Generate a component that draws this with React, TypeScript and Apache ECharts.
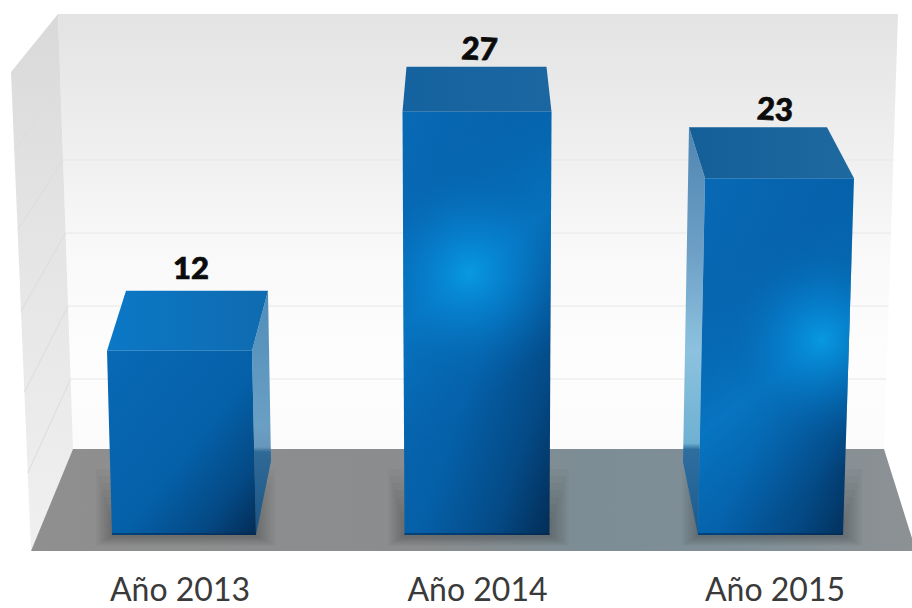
import React, { useEffect, useRef } from "react";
import * as echarts from "echarts";

const categories = ["Año 2013", "Año 2014", "Año 2015"];
const values = [12, 27, 23];
const wallTicks = [5, 10, 15, 20, 25];

// Perspective of each box, in pixels relative to the category centre and the value's y.
const boxes = [
  { lift: 3, ftL: -73, ftR: 72, fbL: -68, fbR: 76, bL: -54, bR: 88, depth: 60, side: "right", sideX: 91, lx: 11, ly: -84 },
  { lift: -2, ftL: -75, ftR: 74, fbL: -73, fbR: 72, bL: -71, bR: 69, depth: 45, side: "none", sideX: 0, lx: 2, ly: -64 },
  { lift: 2, ftL: -70, ftR: 79, fbL: -77, fbR: 68, bL: -86, bR: 52, depth: 51, side: "left", sideX: -92, lx: 0, ly: -70 },
];
const highlights = [
  null,
  { dx: -8, dy: -262, r: 110 },
  { dx: 47, dy: -195, r: 100 },
];
const topFills = [
  ["#0b78c6", "#0f6bb0"],
  ["#14629f", "#1c67a2"],
  ["#155f99", "#1e699f"],
];
const haloSteps = [1, 2, 3, 4, 5, 6, 7, 8];

const backEdgeL = (y: number) => 58 + ((y - 14) / 435) * 15;
const backEdgeR = (y: number) => 898 - ((y - 14) / 435) * 14;

const lin = (x0: number, y0: number, x1: number, y1: number, stops: [number, string][], global = false) =>
  new echarts.graphic.LinearGradient(x0, y0, x1, y1, stops.map(([offset, color]) => ({ offset, color })), global);

const rectPts = (x0: number, y0: number, x1: number, y1: number) => [[x0, y0], [x1, y0], [x1, y1], [x0, y1]];

function renderBox(params: any, api: any) {
  const i = api.value(0);
  const v = api.value(1);
  const b = boxes[i];
  const [cx, yRaw] = api.coord([i, v]);
  const base = api.coord([i, 0])[1];
  const y = yRaw + b.lift;
  const front = [
    [cx + b.ftL, y],
    [cx + b.ftR, y],
    [cx + b.fbR, base],
    [cx + b.fbL, base],
  ];
  const top = [
    [cx + b.bL, y - b.depth],
    [cx + b.bR, y - b.depth],
    [cx + b.ftR, y],
    [cx + b.ftL, y],
  ];
  const children: any[] = haloSteps.map((k) => ({
    type: "polygon",
    shape: { points: rectPts(cx + b.fbL - k * 2, base - 10 - k * 7, cx + b.fbR + k * 2.4, base + 1 + k * 1.2) },
    style: { fill: "rgba(35,35,35,0.035)" },
  }));
  if (b.side === "right") {
    children.push({
      type: "polygon",
      shape: { points: [[cx + b.ftR, y], [cx + b.bR, y - b.depth], [cx + b.sideX, base - 74], [cx + b.fbR, base]] },
      style: {
        fill: lin(0, 0, 0, 1, [[0, "#4f8db9"], [0.55, "#6a9fc4"], [0.64, "#6797bb"], [0.66, "#2f6a97"], [1, "#1c5585"]]),
      },
    });
  }
  if (b.side === "left") {
    children.push({
      type: "polygon",
      shape: { points: [[cx + b.bL, y - b.depth], [cx + b.ftL, y], [cx + b.fbL, base], [cx + b.sideX, base - 73]] },
      style: {
        fill: lin(0, 0, 0, 1, [[0, "#4f86b2"], [0.3, "#6d9fc6"], [0.55, "#8cc2de"], [0.775, "#6fb0d2"], [0.79, "#2f6f9f"], [1, "#1a5b90"]]),
      },
    });
  }
  children.push({
    type: "polygon",
    shape: { points: top },
    style: { fill: lin(0, 0, 1, 0, [[0, topFills[i][0]], [1, topFills[i][1]]]) },
  });
  children.push({
    type: "polygon",
    shape: { points: front },
    style: {
      fill: lin(0, 0, 1, 1, [[0, "#0869b5"], [0.55, "#0560a8"], [0.8, "#044a86"], [1, "#032c55"]]),
    },
  });
  const h = highlights[i];
  if (h) {
    const hx = cx + h.dx;
    const hy = base + h.dy;
    children.push({
      type: "polygon",
      shape: { points: front },
      style: {
        fill: lin(hx - 70, hy - 90, hx + 70, hy + 90, [
          [0, "rgba(6,110,190,0)"],
          [0.5, "rgba(8,135,215,0.5)"],
          [1, "rgba(6,110,190,0)"],
        ], true),
      },
    });
    children.push({
      type: "polygon",
      shape: { points: front },
      style: {
        fill: new echarts.graphic.RadialGradient(hx, hy, h.r, [
          { offset: 0, color: "rgba(8,160,232,0.85)" },
          { offset: 0.5, color: "rgba(6,130,208,0.45)" },
          { offset: 1, color: "rgba(5,96,168,0)" },
        ], true),
      },
    });
  }
  children.push({
    type: "polygon",
    shape: { points: rectPts(cx + b.fbL, base - 2, cx + b.fbR, base) },
    style: { fill: "rgba(2,40,80,0.55)" },
  });
  children.push({
    type: "text",
    x: cx + b.lx,
    y: y + b.ly,
    rotation: i === 0 ? 0 : -0.05,
    style: {
      text: String(v),
      font: "900 31px Lato, sans-serif",
      fill: "#0b0b0b",
      stroke: "#0b0b0b",
      lineWidth: 0.7,
      align: "center",
      verticalAlign: "middle",
    },
  });
  return { type: "group", children };
}

function renderWallLine(params: any, api: any) {
  const y = api.coord([0, api.value(1)])[1];
  const xl = backEdgeL(y);
  const dy = 53 + y * 0.108;
  const xf = 11 + ((y + dy - 72) / 479) * 20;
  return {
    type: "group",
    children: [
      { type: "line", shape: { x1: xl, y1: y, x2: backEdgeR(y), y2: y }, style: { stroke: "#e8e8e8", lineWidth: 1 } },
      { type: "line", shape: { x1: xl, y1: y, x2: xf, y2: y + dy }, style: { stroke: "#dcdcdc", lineWidth: 1 } },
    ],
  };
}

export default function App() {
  const ref = useRef<HTMLDivElement>(null);
  useEffect(() => {
    document.body.style.margin = "0";
    const chart = echarts.init(ref.current!, null, { renderer: "svg" });
    chart.setOption({
      animation: false,
      backgroundColor: "#ffffff",
      grid: [
        { left: 180, top: 67, width: 595, height: 468 },
        { left: 60, top: 14, width: 820, height: 438 },
      ],
      xAxis: [
        {
          type: "category",
          gridIndex: 0,
          data: categories,
          boundaryGap: false,
          axisLine: { show: false },
          axisTick: { show: false },
          axisLabel: { margin: 37, fontFamily: "Lato", fontSize: 32, color: "#3a3a3a", showMinLabel: true, showMaxLabel: true, interval: 0 },
        },
        { type: "value", gridIndex: 1, show: false, min: 0, max: 1 },
      ],
      yAxis: [
        { type: "value", gridIndex: 0, show: false, min: 0, max: 30, splitLine: { show: false } },
        { type: "value", gridIndex: 1, show: false, min: 0, max: 30, interval: 5, splitLine: { show: false } },
      ],
      graphic: {
        elements: [
          {
            type: "polygon",
            z: -10,
            shape: { points: [[58, 14], [898, 14], [884, 452], [73, 452]] },
            style: { fill: lin(0, 0, 0, 1, [[0, "#e3e3e3"], [0.28, "#eeeeee"], [0.55, "#f9f9f9"], [0.8, "#fdfdfd"], [1, "#fbfbfb"]]) },
          },
          {
            type: "polygon",
            z: -10,
            shape: { points: [[58, 14], [11, 72], [31, 551], [73, 449]] },
            style: { fill: lin(0, 0, 0, 1, [[0, "#d9d9d9"], [0.4, "#e4e4e4"], [1, "#f0f0f0"]]) },
          },
          {
            type: "polygon",
            z: -9,
            shape: { points: [[73, 449], [884, 449], [916, 551], [31, 551]] },
            style: { fill: lin(0, 0, 1, 0, [[0, "#8f8f8f"], [0.45, "#8a8c8d"], [0.62, "#7d8d95"], [0.82, "#808f97"], [1, "#8d9193"]]) },
          },
        ],
      },
      series: [
        {
          type: "custom",
          name: "wall",
          xAxisIndex: 1,
          yAxisIndex: 1,
          z: 1,
          silent: true,
          clip: false,
          data: wallTicks.map((t) => [0, t]),
          encode: { x: 0, y: 1 },
          renderItem: renderWallLine,
        },
        {
          type: "custom",
          name: "Valor",
          xAxisIndex: 0,
          yAxisIndex: 0,
          z: 3,
          clip: false,
          data: values.map((v, i) => [i, v]),
          encode: { x: 0, y: 1 },
          renderItem: renderBox,
        },
      ],
    });
    return () => chart.dispose();
  }, []);
  return <div ref={ref} style={{ width: 912, height: 608 }} />;
}
